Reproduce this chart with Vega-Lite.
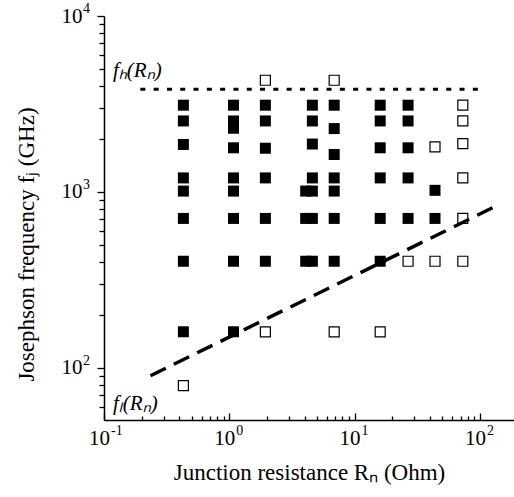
{
  "$schema": "https://vega.github.io/schema/vega-lite/v6.json",
  "width": 410,
  "height": 404,
  "autosize": "none",
  "padding": {"left": 104, "top": 16, "right": 0, "bottom": 77},
  "background": "white",
  "config": {
    "view": {"stroke": null},
    "font": "Liberation Serif",
    "axis": {
      "grid": false,
      "domainColor": "black",
      "domainWidth": 1.5,
      "tickColor": "black",
      "tickWidth": 1.3,
      "labelFont": "Liberation Serif",
      "labelFontSize": 21,
      "labelColor": "black",
      "titleFont": "Liberation Serif",
      "titleFontSize": 23,
      "titleFontWeight": "normal",
      "titleColor": "black",
      "labelOverlap": false,
      "labelFlush": false
    }
  },
  "datasets": {
    "pts": [
      {"R": 0.43, "f": 3110, "type": "filled"},
      {"R": 0.43, "f": 2530, "type": "filled"},
      {"R": 0.43, "f": 1860, "type": "filled"},
      {"R": 0.43, "f": 1200, "type": "filled"},
      {"R": 0.43, "f": 1010, "type": "filled"},
      {"R": 0.43, "f": 706, "type": "filled"},
      {"R": 0.43, "f": 403, "type": "filled"},
      {"R": 0.43, "f": 160, "type": "filled"},
      {"R": 0.43, "f": 79, "type": "open"},
      {"R": 1.08, "f": 3110, "type": "filled"},
      {"R": 1.08, "f": 2530, "type": "filled"},
      {"R": 1.08, "f": 2300, "type": "filled"},
      {"R": 1.08, "f": 1780, "type": "filled"},
      {"R": 1.08, "f": 1200, "type": "filled"},
      {"R": 1.08, "f": 1010, "type": "filled"},
      {"R": 1.08, "f": 706, "type": "filled"},
      {"R": 1.08, "f": 403, "type": "filled"},
      {"R": 1.08, "f": 160, "type": "filled"},
      {"R": 1.94, "f": 4310, "type": "open"},
      {"R": 1.94, "f": 3110, "type": "filled"},
      {"R": 1.94, "f": 2530, "type": "filled"},
      {"R": 1.94, "f": 1770, "type": "filled"},
      {"R": 1.94, "f": 1200, "type": "filled"},
      {"R": 1.94, "f": 706, "type": "filled"},
      {"R": 1.94, "f": 403, "type": "filled"},
      {"R": 1.94, "f": 160, "type": "open"},
      {"R": 4.07, "f": 1010, "type": "filled"},
      {"R": 4.07, "f": 706, "type": "filled"},
      {"R": 4.07, "f": 403, "type": "filled"},
      {"R": 4.6, "f": 3110, "type": "filled"},
      {"R": 4.6, "f": 2530, "type": "filled"},
      {"R": 4.6, "f": 1870, "type": "filled"},
      {"R": 4.6, "f": 1200, "type": "filled"},
      {"R": 4.6, "f": 1010, "type": "filled"},
      {"R": 4.6, "f": 706, "type": "filled"},
      {"R": 4.6, "f": 403, "type": "filled"},
      {"R": 6.87, "f": 4310, "type": "open"},
      {"R": 6.87, "f": 3110, "type": "filled"},
      {"R": 6.87, "f": 2290, "type": "filled"},
      {"R": 6.87, "f": 1630, "type": "filled"},
      {"R": 6.87, "f": 1200, "type": "filled"},
      {"R": 6.87, "f": 1010, "type": "filled"},
      {"R": 6.87, "f": 706, "type": "filled"},
      {"R": 6.87, "f": 403, "type": "filled"},
      {"R": 6.87, "f": 160, "type": "open"},
      {"R": 16, "f": 3110, "type": "filled"},
      {"R": 16, "f": 2530, "type": "filled"},
      {"R": 16, "f": 1780, "type": "filled"},
      {"R": 16, "f": 1200, "type": "filled"},
      {"R": 16, "f": 706, "type": "filled"},
      {"R": 16, "f": 403, "type": "filled"},
      {"R": 16, "f": 160, "type": "open"},
      {"R": 26.7, "f": 3110, "type": "filled"},
      {"R": 26.7, "f": 2530, "type": "filled"},
      {"R": 26.7, "f": 1780, "type": "filled"},
      {"R": 26.7, "f": 1200, "type": "filled"},
      {"R": 26.7, "f": 706, "type": "filled"},
      {"R": 26.7, "f": 403, "type": "open"},
      {"R": 43.8, "f": 1800, "type": "open"},
      {"R": 43.8, "f": 1020, "type": "filled"},
      {"R": 43.8, "f": 706, "type": "filled"},
      {"R": 43.8, "f": 403, "type": "open"},
      {"R": 73, "f": 3110, "type": "open"},
      {"R": 73, "f": 2530, "type": "open"},
      {"R": 73, "f": 1880, "type": "open"},
      {"R": 73, "f": 1200, "type": "open"},
      {"R": 73, "f": 706, "type": "open"},
      {"R": 73, "f": 403, "type": "open"}
    ],
    "fh": [{"R": 0.195, "f": 3830}, {"R": 105, "f": 3830}],
    "fl": [{"R": 0.235, "f": 90}, {"R": 139, "f": 840}],
    "labels": [
      {"R": 0.118, "f": 4850, "text": "fₕ(Rₙ)"},
      {"R": 0.118, "f": 62, "text": "fₗ(Rₙ)"}
    ],
    "xexp": [
      {"R": 0.1, "f": 50.4, "e": "-1"},
      {"R": 1, "f": 50.4, "e": "0"},
      {"R": 10, "f": 50.4, "e": "1"},
      {"R": 100, "f": 50.4, "e": "2"}
    ],
    "yexp": [
      {"R": 0.1, "f": 100, "e": "2"},
      {"R": 0.1, "f": 1000, "e": "3"},
      {"R": 0.1, "f": 10000, "e": "4"}
    ]
  },
  "encoding": {
    "x": {
      "field": "R", "type": "quantitative",
      "scale": {"type": "log", "domain": [0.1, 187], "nice": false},
      "axis": {
        "title": "Junction resistance Rₙ (Ohm)",
        "values": [0.1,0.2,0.3,0.4,0.5,0.6,0.7,0.8,0.9,1,2,3,4,5,6,7,8,9,10,20,30,40,50,60,70,80,90,100],
        "labelExpr": "datum.value==0.1||datum.value==1||datum.value==10||datum.value==100?'10':''",
        "labelFont": "Liberation Serif",
        "labelFontSize": 21,
        "labelOffset": -5,
        "tickSize": {"condition": {"test": "datum.value==0.1||datum.value==1||datum.value==10||datum.value==100", "value": -7}, "value": -4},
        "labelPadding": 14,
        "titlePadding": 10
      }
    },
    "y": {
      "field": "f", "type": "quantitative",
      "scale": {"type": "log", "domain": [50.4, 10000], "nice": false},
      "axis": {
        "title": "Josephson frequency fⱼ (GHz)",
        "values": [60,70,80,90,100,200,300,400,500,600,700,800,900,1000,2000,3000,4000,5000,6000,7000,8000,9000,10000],
        "labelExpr": "datum.value==100||datum.value==1000||datum.value==10000?'10':''",
        "labelFont": "Liberation Serif",
        "labelFontSize": 21,
        "tickSize": {"condition": {"test": "datum.value==100||datum.value==1000||datum.value==10000", "value": 7}, "value": 5},
        "labelPadding": 15,
        "titlePadding": 23,
        "titleY": 228
      }
    }
  },
  "layer": [
    {
      "data": {"name": "pts"},
      "transform": [{"filter": "datum.type=='filled'"}],
      "mark": {"type": "square", "size": 121, "color": "black", "opacity": 1, "filled": true}
    },
    {
      "data": {"name": "pts"},
      "transform": [{"filter": "datum.type=='open'"}],
      "mark": {"type": "square", "size": 100, "fill": "white", "stroke": "black", "strokeWidth": 1.2, "opacity": 1, "filled": true}
    },
    {
      "data": {"name": "fh"},
      "mark": {"type": "line", "color": "black", "strokeWidth": 3, "strokeDash": [5, 8.3]},
      "encoding": {}
    },
    {
      "data": {"name": "fl"},
      "mark": {"type": "line", "color": "black", "strokeWidth": 3.5, "strokeDash": [17, 9]},
      "encoding": {}
    },
    {
      "data": {"name": "labels"},
      "mark": {"type": "text", "align": "left", "baseline": "middle", "fontSize": 21, "fontStyle": "italic", "font": "Liberation Serif"},
      "encoding": {"text": {"field": "text"}}
    },
    {
      "data": {"name": "xexp"},
      "mark": {"type": "text", "align": "left", "baseline": "middle", "fontSize": 14, "font": "Liberation Serif", "dx": 7, "dy": 11, "color": "black"},
      "encoding": {"text": {"field": "e"}}
    },
    {
      "data": {"name": "yexp"},
      "mark": {"type": "text", "align": "left", "baseline": "middle", "fontSize": 14, "font": "Liberation Serif", "dx": -21, "dy": -7, "color": "black"},
      "encoding": {"text": {"field": "e"}}
    }
  ]
}
